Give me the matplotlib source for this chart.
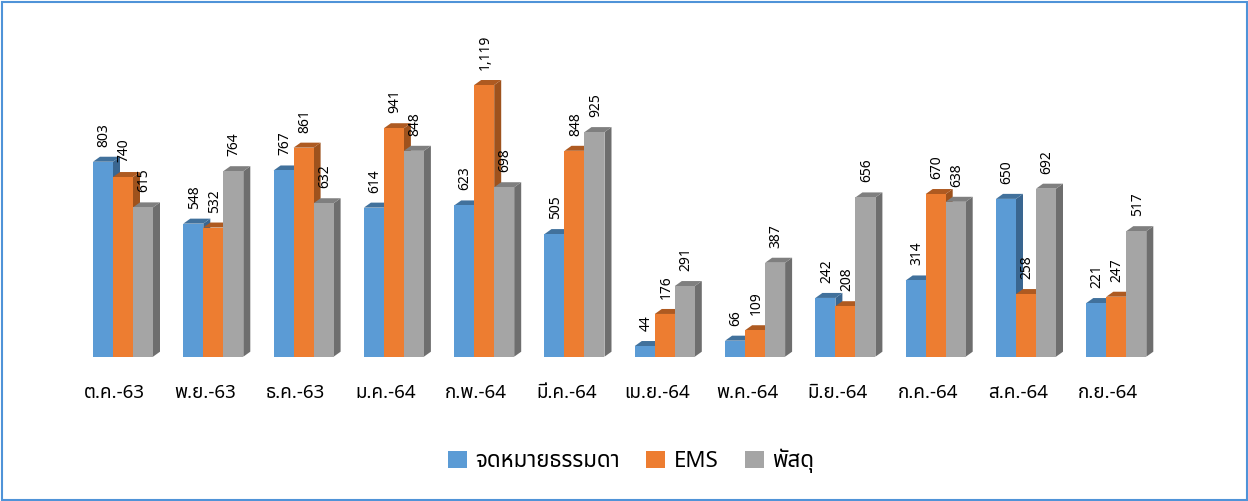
import matplotlib
matplotlib.use("Agg")
import matplotlib.pyplot as plt
from matplotlib.patches import Polygon, Patch, Rectangle
from matplotlib import font_manager
from matplotlib.ft2font import FT2Font

categories = ["ต.ค.-63", "พ.ย.-63", "ธ.ค.-63", "ม.ค.-64", "ก.พ.-64", "มี.ค.-64",
              "เม.ย.-64", "พ.ค.-64", "มิ.ย.-64", "ก.ค.-64", "ส.ค.-64", "ก.ย.-64"]
series_names = ["จดหมายธรรมดา", "EMS", "พัสดุ"]
regular = [803, 548, 767, 614, 623, 505, 44, 66, 242, 314, 650, 221]
ems = [740, 532, 861, 941, 1119, 848, 176, 109, 208, 670, 258, 247]
parcel = [615, 764, 632, 848, 698, 925, 291, 387, 656, 638, 692, 517]

# pick a font with Thai glyphs
thai_font = None
pref = ["Tahoma", "Leelawadee", "Noto Sans Thai", "Loma", "Garuda", "Sarabun",
        "Kinnari", "Norasi", "Waree", "Umpush", "Laksaman", "DejaVu Sans"]
cands = {}
for f in font_manager.fontManager.ttflist:
    try:
        ft = FT2Font(f.fname)
        cmap = ft.get_charmap()
        if 0x0E01 in cmap and 0x0E14 in cmap:
            cands.setdefault(f.name, f.fname)
    except Exception:
        pass
for p in pref:
    if p in cands:
        thai_font = p
        break
if thai_font is None and cands:
    thai_font = sorted(cands)[0]
families = ([thai_font] if thai_font else []) + ["DejaVu Sans"]
plt.rcParams["font.family"] = families

W, H = 1248, 501
fig = plt.figure(figsize=(W / 100, H / 100), dpi=100)

# pixel geometry
base_px = 356.7          # baseline y from top
top_px = 20
left_px, right_px = 20, 1228
first_center = 123.0
pitch = 90.3
scale = 0.2428           # px per unit

ax = fig.add_axes([left_px / W, 1 - base_px / H, (right_px - left_px) / W, (base_px - top_px) / H])
ax.set_xlim((left_px - first_center) / pitch, (right_px - first_center) / pitch)
ax.set_ylim(0, (base_px - top_px) / scale)
for s in ax.spines.values():
    s.set_visible(False)
ax.set_yticks([])
ax.patch.set_alpha(0)

bw = 20 / pitch
dx = 7 / pitch
dy = 5 / scale

front = ["#5B9BD5", "#ED7D31", "#A5A5A5"]
topc = ["#41719C", "#AE5A21", "#7F7F7F"]
sidec = ["#3A6690", "#9E521D", "#6E6E6E"]

data = [regular, ems, parcel]
for i in range(len(categories)):
    for j in range(3):
        h = data[j][i]
        x0 = i - 1.5 * bw + j * bw
        x1 = x0 + bw
        ax.add_patch(Polygon([(x1, 0), (x1 + dx, dy), (x1 + dx, h + dy), (x1, h)],
                             closed=True, fc=sidec[j], ec="none", zorder=2 + j * 0.01 + i))
        ax.add_patch(Polygon([(x0, h), (x0 + dx, h + dy), (x1 + dx, h + dy), (x1, h)],
                             closed=True, fc=topc[j], ec="none", zorder=2 + j * 0.01 + i))
        ax.add_patch(Rectangle((x0, 0), bw, h, fc=front[j], ec="none",
                               zorder=2.005 + j * 0.01 + i))
        ax.annotate(f"{h:,}", xy=(x0 + bw / 2, h), xytext=(1, 15), textcoords="offset pixels",
                    rotation=90, ha="center", va="bottom", fontsize=10, color="#000000",
                    zorder=50)

ax.set_xticks([i - 0.09 for i in range(len(categories))])
ax.set_xticklabels(categories, fontsize=13.5, color="#000000")
ax.tick_params(axis="x", length=0, pad=20)

handles = [Patch(fc=c, ec="none") for c in front]
fig.legend(handles, series_names, loc="center", bbox_to_anchor=(631 / W, 1 - 461 / H),
           ncol=3, frameon=False, fontsize=16, handlelength=0.85, handleheight=0.85,
           handletextpad=0.36, columnspacing=1.2)

# figure border
fig.patches.append(Rectangle((1.5 / W, 1.5 / H), 1 - 3 / W, 1 - 3 / H, transform=fig.transFigure,
                             fill=False, ec="#4F93D8", lw=1.5))

fig.savefig("out.png", dpi=100)
